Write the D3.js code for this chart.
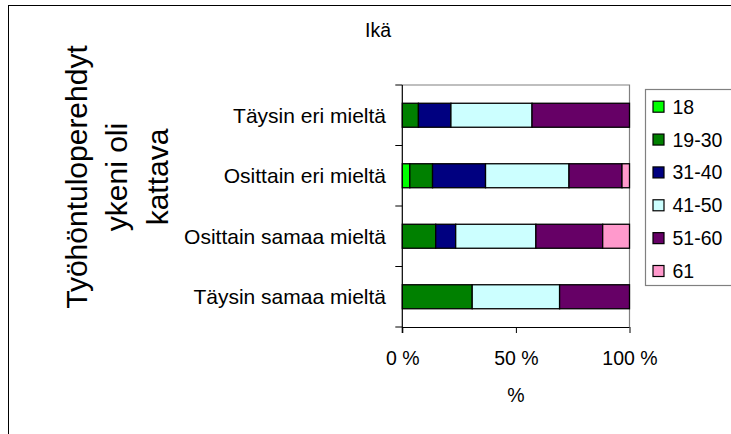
<!DOCTYPE html>
<html>
<head>
<meta charset="utf-8">
<script src="https://cdn.jsdelivr.net/npm/d3@7"></script>
<style>
  html, body { margin: 0; padding: 0; background: #fff; }
  svg { display: block; font-family: "Liberation Sans", Arial, sans-serif; }
</style>
</head>
<body>
<svg id="chart" width="731" height="434"></svg>
<script>
// Answer categories (top to bottom)
const categories = ["Täysin eri mieltä", "Osittain eri mieltä", "Osittain samaa mieltä", "Täysin samaa mieltä"];
// Age groups (stack order, left to right)
const ageGroups = ["18", "19-30", "31-40", "41-50", "51-60", "61"];
const ageColors = ["#00FF00", "#008000", "#000080", "#CCFFFF", "#660066", "#FF99CC"];
// Share of respondents per age group, % of each answer category
const age18   = [0,    3.3,  0,    0];
const age1930 = [7.1,  10.0, 14.7, 30.8];
const age3140 = [14.3, 23.3, 8.8,  0];
const age4150 = [35.7, 36.7, 35.3, 38.5];
const age5160 = [42.9, 23.3, 29.4, 30.8];
const age61   = [0,    3.3,  11.8, 0];
const xTicks = [0, 0.5, 1];
const xTickLabels = ["0 %", "50 %", "100 %"];

const seriesValues = [age18, age1930, age3140, age4150, age5160, age61];
const rows = categories.map((c, i) => {
  const r = { category: c };
  ageGroups.forEach((g, j) => { r[g] = seriesValues[j][i]; });
  return r;
});

const svg = d3.select("#chart");
const plot = { left: 402.3, right: 629.5, top: 85, bottom: 327 };

// Outer chart frame
svg.append("rect")
  .attr("x", 8.5).attr("y", 5.5).attr("width", 740).attr("height", 440)
  .attr("fill", "none").attr("stroke", "#000").attr("stroke-width", 1);

const x = d3.scaleLinear().domain([0, 1]).range([plot.left, plot.right]);
const y = d3.scaleBand().domain(categories).range([plot.top, plot.bottom]).paddingInner(0.6034).paddingOuter(0.3017);
const color = d3.scaleOrdinal().domain(ageGroups).range(ageColors);

const stacked = d3.stack().keys(ageGroups).offset(d3.stackOffsetExpand)(rows);

// Plot area border (top and right, grey)
svg.append("path")
  .attr("d", `M${plot.left},${plot.top}H${plot.right}V${plot.bottom}`)
  .attr("fill", "none").attr("stroke", "#808080").attr("stroke-width", 1.2);

// Bars
const layers = svg.append("g").selectAll("g").data(stacked).join("g")
  .attr("fill", d => color(d.key));
layers.selectAll("rect")
  .data(d => d.filter(s => s[1] - s[0] > 0))
  .join("rect")
  .attr("x", d => x(d[0]))
  .attr("y", d => y(d.data.category))
  .attr("width", d => x(d[1]) - x(d[0]))
  .attr("height", y.bandwidth())
  .attr("stroke", "#000")
  .attr("stroke-width", 1.3);

// Category axis: ticks between categories
const bounds = [plot.top].concat(categories.map(c => y(c) + y.bandwidth() / 2 + y.step() / 2));
svg.append("g").selectAll("line").data(bounds).join("line")
  .attr("x1", plot.left - 7).attr("x2", plot.left)
  .attr("y1", d => d).attr("y2", d => d)
  .attr("stroke", "#000").attr("stroke-width", 1);
svg.append("line")
  .attr("x1", plot.left).attr("x2", plot.left)
  .attr("y1", plot.top).attr("y2", plot.bottom + 6)
  .attr("stroke", "#000").attr("stroke-width", 1.2);
svg.append("g").selectAll("text").data(categories).join("text")
  .attr("x", 386)
  .attr("y", d => y(d) + y.bandwidth() / 2)
  .attr("dy", "0.35em")
  .attr("text-anchor", "end")
  .attr("font-size", 21)
  .attr("fill", "#000")
  .text(d => d);

// Value axis
const xAxis = d3.axisBottom(x).tickValues(xTicks).tickSize(6).tickPadding(18)
  .tickFormat((d, i) => xTickLabels[i]);
const gx = svg.append("g").attr("transform", `translate(0,${plot.bottom})`).call(xAxis);
gx.select(".domain").attr("d", `M${plot.left},0.5H${plot.right}`).attr("stroke", "#000").attr("stroke-width", 1.2);
gx.selectAll(".tick line").attr("stroke", "#000");
gx.selectAll(".tick text").attr("font-size", 19.5).attr("fill", "#000")
  .attr("font-family", "Liberation Sans, Arial, sans-serif");

// Titles
svg.append("text").attr("x", 378).attr("y", 37).attr("text-anchor", "middle")
  .attr("font-size", 19.5).text("Ikä");
svg.append("text").attr("x", (plot.left + plot.right) / 2).attr("y", 401.5).attr("text-anchor", "middle")
  .attr("font-size", 19.5).text("%");
const yTitle = svg.append("text")
  .attr("transform", "translate(86.7,177) rotate(-90)")
  .attr("text-anchor", "middle")
  .attr("font-size", 30);
["Työhöntuloperehdyt", "ykeni oli", "kattava"].forEach((t, i) => {
  yTitle.append("tspan").attr("x", 0).attr("y", i * 40.5).text(t);
});

// Legend
const legend = svg.append("g");
legend.append("rect")
  .attr("x", 645.5).attr("y", 89.5).attr("width", 120).attr("height", 196)
  .attr("fill", "#fff").attr("stroke", "#808080").attr("stroke-width", 1.2);
const items = legend.selectAll("g").data(ageGroups).join("g")
  .attr("transform", (d, i) => `translate(0,${106.7 + i * 32.86})`);
items.append("rect")
  .attr("x", 653).attr("y", -5.5).attr("width", 11).attr("height", 11)
  .attr("fill", d => color(d)).attr("stroke", "#000").attr("stroke-width", 1.2);
items.append("text")
  .attr("x", 672.5).attr("y", 0).attr("dy", "0.36em")
  .attr("font-size", 19.5).text(d => d);
</script>
</body>
</html>
